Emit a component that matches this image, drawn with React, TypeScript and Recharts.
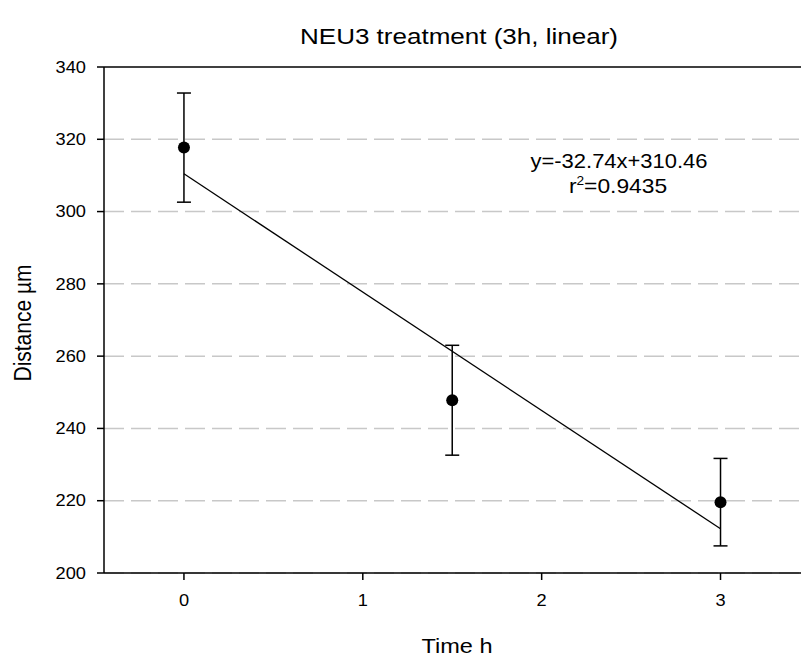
import React from "react";
import {
  ComposedChart,
  Scatter,
  Line,
  XAxis,
  YAxis,
  CartesianGrid,
  ErrorBar,
  ReferenceLine,
  Customized,
} from "recharts";

const times = [0, 1.5, 3];
const distances = [317.7, 247.8, 219.6];
const errors = [15.1, 15.2, 12.1];

const slope = -32.74;
const intercept = 310.46;
const fitRange = [0, 3];

const xTicks = [0, 1, 2, 3];
const yTicks = [200, 220, 240, 260, 280, 300, 320, 340];

const points = times.map((t, i) => ({ x: t, y: distances[i], err: errors[i] }));
const fitLine = fitRange.map((t) => ({ x: t, y: intercept + slope * t }));

const font = "'Liberation Sans', Arial, sans-serif";
// the reference glyphs are a bit wider than Arial's
const stretch = 1.14;

const makeTick = (dy: string) => (props: any) => {
  const { x, y, payload, textAnchor } = props;
  return (
    <text
      transform={`translate(${x},${y}) scale(${stretch},1)`}
      textAnchor={textAnchor}
      dy={dy}
      fontSize={16}
      fontFamily={font}
      fill="#000"
    >
      {payload.value}
    </text>
  );
};

const Dot = (props: any) => <circle cx={props.cx} cy={props.cy} r={6} fill="#000" />;

const Labels = () => (
  <g fontFamily={font} fill="#000">
    <text x={459} y={44} textAnchor="middle" fontSize={22} textLength={318} lengthAdjust="spacingAndGlyphs">
      NEU3 treatment (3h, linear)
    </text>
    <text x={619} y={168} textAnchor="middle" fontSize={20} textLength={177} lengthAdjust="spacingAndGlyphs">
      y=-32.74x+310.46
    </text>
    <g transform={`translate(618,193) scale(${stretch},1)`}>
      <text x={0} y={0} textAnchor="middle" style={{ fontSize: 20 }}>
        <tspan style={{ fontSize: 20 }}>r</tspan>
        <tspan dy={-8} style={{ fontSize: 12 }}>2</tspan>
        <tspan dy={8} style={{ fontSize: 20 }}>=0.9435</tspan>
      </text>
    </g>
    <text x={457} y={653} textAnchor="middle" fontSize={20} textLength={71} lengthAdjust="spacingAndGlyphs">
      Time h
    </text>
    <g transform={`translate(31,323) scale(${stretch},1) rotate(-90)`}>
      <text x={0} y={0} textAnchor="middle" style={{ fontSize: 21 }}>
        Distance µm
      </text>
    </g>
  </g>
);

export default function App() {
  return (
    <div style={{ position: "absolute", left: 0, top: 0, background: "#fff" }}>
      <ComposedChart width={801} height={660} margin={{ top: 67, right: 0, bottom: 0, left: 0 }}>
        <CartesianGrid
          horizontal
          vertical={false}
          stroke="#c8c8c8"
          strokeWidth={1.5}
          strokeDasharray="20 7"
        />
        <XAxis
          type="number"
          dataKey="x"
          domain={[-0.447, 3.45]}
          ticks={xTicks}
          allowDataOverflow
          height={87}
          tickSize={7}
          tickMargin={15}
          stroke="#000"
          strokeWidth={1.5}
          tick={makeTick("0.71em")}
        />
        <YAxis
          type="number"
          dataKey="y"
          domain={[200, 340]}
          ticks={yTicks}
          allowDataOverflow
          width={104}
          tickSize={7}
          tickMargin={11}
          stroke="#000"
          strokeWidth={1.5}
          tick={makeTick("0.355em")}
        />
        <ReferenceLine y={340} stroke="#404040" strokeWidth={2} />
        <Line
          data={fitLine}
          dataKey="y"
          type="linear"
          stroke="#000"
          strokeWidth={1.3}
          dot={false}
          activeDot={false}
          isAnimationActive={false}
        />
        <Scatter data={points} dataKey="y" shape={Dot} isAnimationActive={false}>
          <ErrorBar dataKey="err" direction="y" width={7} stroke="#000" strokeWidth={1.5} />
        </Scatter>
        <Customized component={Labels} />
      </ComposedChart>
    </div>
  );
}
